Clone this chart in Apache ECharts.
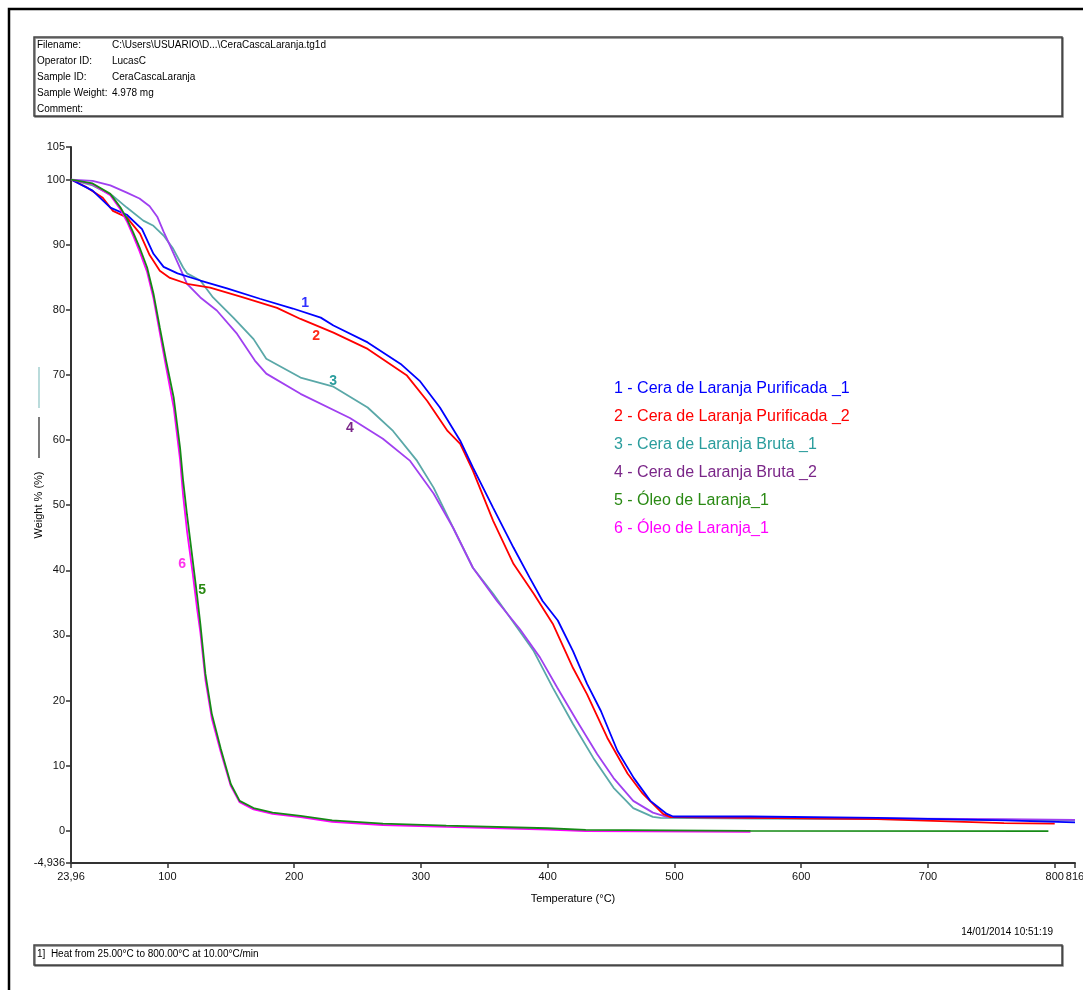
<!DOCTYPE html>
<html>
<head>
<meta charset="utf-8">
<title>CeraCascaLaranja TGA</title>
<script src="https://cdn.jsdelivr.net/npm/echarts@6.0.0/dist/echarts.min.js"></script>
<style>
html, body { margin: 0; padding: 0; background: #ffffff; }
#main { width: 1083px; height: 990px; }
</style>
</head>
<body>
<div id="main"></div>
<script>
// curve 1 - Cera de Laranja Purificada _1
var temp1 = [23.96, 41, 55, 68, 80, 89, 97, 108, 126, 147, 173, 199, 221, 231, 258, 284, 299, 315, 331, 341, 357, 373, 386, 396, 408, 420, 431, 442, 455, 468, 481, 494, 499, 560, 660, 760, 816];
var weight1 = [100, 98.3, 95.7, 94.6, 92.4, 88.6, 86.6, 85.6, 84.5, 83.3, 81.7, 80.2, 78.8, 77.6, 75.0, 71.7, 69.1, 65.0, 59.9, 55.8, 49.6, 43.5, 38.8, 35.3, 32.3, 27.6, 22.6, 18.4, 12.3, 8.1, 4.6, 2.6, 2.2, 2.2, 2.0, 1.6, 1.3];
// curve 2 - Cera de Laranja Purificada _2
var temp2 = [23.96, 36.5, 49, 57, 68, 78.4, 86, 94, 102, 115.5, 133.7, 159.7, 186.5, 205, 231, 258, 289, 305, 321, 331, 341, 357, 373, 389, 404, 420, 431, 447, 463, 475, 491, 497, 560, 660, 760, 800];
var weight2 = [100, 98.8, 97.2, 95.2, 94.2, 91.7, 88.4, 86.0, 84.9, 84.0, 83.4, 81.9, 80.3, 78.6, 76.5, 74.0, 69.9, 66.0, 61.4, 59.4, 55.3, 47.6, 41.0, 36.4, 31.8, 25.0, 21.0, 14.3, 8.8, 5.7, 2.6, 2.1, 2.0, 1.8, 1.2, 1.1];
// curve 3 - Cera de Laranja Bruta _1
var temp3 = [23.96, 41, 57, 68, 81, 89, 97, 104.5, 112.4, 115.5, 126, 136, 152, 168, 178, 205, 231, 258, 278, 297, 310, 325.5, 341, 357, 376, 389, 404, 420, 436, 452, 467.5, 483, 489, 560, 660, 760, 816];
var weight3 = [100, 99.1, 97.5, 95.7, 93.7, 92.9, 91.4, 89.4, 86.5, 85.6, 84.5, 81.9, 78.8, 75.5, 72.5, 69.6, 68.2, 65.0, 61.4, 56.8, 52.7, 46.5, 40.4, 36.4, 31.2, 27.6, 22.0, 16.4, 11.2, 6.6, 3.5, 2.15, 2.0, 1.9, 1.8, 1.7, 1.6];
// curve 4 - Cera de Laranja Bruta _2
var temp4 = [23.96, 41, 55, 68, 78, 86, 92, 97, 102, 108, 115.5, 126, 139, 155, 169, 178, 205, 244, 270, 291.5, 310, 325.5, 341, 360, 378, 394, 407.5, 423, 439, 452, 467.5, 483, 494, 560, 660, 760, 816];
var weight4 = [100, 99.8, 99.1, 98.0, 97.1, 95.9, 94.3, 92.0, 89.9, 87.3, 84.0, 81.9, 79.9, 76.3, 72.2, 70.2, 67.1, 63.4, 60.2, 56.8, 51.8, 46.5, 40.4, 35.3, 31.0, 26.6, 22.0, 16.9, 11.8, 8.1, 4.6, 2.8, 2.15, 2.0, 1.9, 1.8, 1.7];
// curve 5 - Óleo de Laranja_1 (green)
var temp5 = [23.96, 41, 55, 63, 68, 73, 78, 84, 89, 94, 99, 105, 110, 112.4, 115.5, 120, 123.5, 126, 130, 135, 142, 150, 157, 168, 183, 205, 230, 270, 320, 400, 430, 560, 795];
var weight5 = [100, 99.4, 97.8, 95.7, 94.0, 91.9, 89.6, 86.5, 82.5, 77.3, 72.2, 66.5, 58.8, 53.8, 48.5, 41.5, 36.0, 31.8, 24.1, 18.0, 12.7, 7.2, 4.6, 3.5, 2.8, 2.3, 1.6, 1.1, 0.8, 0.4, 0.15, 0.0, -0.05];
// curve 6 - Óleo de Laranja_1 (magenta)
var temp6 = [23.96, 41, 55, 63, 68, 73, 78, 84, 89, 94, 99, 105, 110, 112.4, 115.5, 120, 123.5, 126, 130, 135, 142, 150, 157, 168, 183, 205, 230, 270, 320, 400, 430, 560];
var weight6 = [100, 99.3, 97.6, 95.4, 93.6, 91.4, 89.0, 85.8, 81.8, 76.5, 71.2, 65.0, 57.0, 51.5, 46.0, 39.5, 34.0, 30.5, 23.2, 17.3, 12.2, 6.9, 4.4, 3.3, 2.6, 2.1, 1.4, 0.9, 0.6, 0.2, -0.05, -0.15];

// where the little curve numbers sit (temperature, weight)
var curveLabelPos = [[208.6, 81.1], [217.3, 76.0], [230.7, 69.1], [244.0, 61.9], [127.4, 36.9], [111.6, 41.0]];

var legendNames = ["1 - Cera de Laranja Purificada _1", "2 - Cera de Laranja Purificada _2", "3 - Cera de Laranja Bruta _1", "4 - Cera de Laranja Bruta _2", "5 - Óleo de Laranja_1", "6 - Óleo de Laranja_1"];

var xTicks = [23.96, 100, 200, 300, 400, 500, 600, 700, 800, 816];
var yTicks = [-4.936, 0, 10, 20, 30, 40, 50, 60, 70, 80, 90, 100, 105];

var headerLabels = ["Filename:", "Operator ID:", "Sample ID:", "Sample Weight:", "Comment:"];
var headerValues = ["C:\\Users\\USUARIO\\D...\\CeraCascaLaranja.tg1d", "LucasC", "CeraCascaLaranja", "4.978 mg", ""];

var FONT = '"Liberation Sans Narrow", "Liberation Sans", Arial, sans-serif';

function zip(t, w) {
  return t.map(function (v, i) { return [v, w[i]]; });
}
function fmt(v) {
  return String(+v.toFixed(3)).replace('.', ',');
}

var lineColors = ['#0000ff', '#ff0000', '#5aa8a8', '#a040f0', '#168a16', '#ff00ff'];
var textColors = ['#0000ff', '#ff0000', '#2a9d9d', '#7a2688', '#2a8a14', '#ff00ff'];
var curveLabelColors = ['#3030ff', '#ff2a1a', '#2a9d9d', '#7a2688', '#2a8a14', '#ff33ee'];
var temps = [temp1, temp2, temp3, temp4, temp5, temp6];
var weights = [weight1, weight2, weight3, weight4, weight5, weight6];

function makeSeries(i) {
  return {
    name: legendNames[i],
    type: 'line',
    data: zip(temps[i], weights[i]),
    showSymbol: false,
    smooth: false,
    lineStyle: { color: lineColors[i], width: 1.8 },
    itemStyle: { color: lineColors[i] },
    markPoint: {
      symbol: 'circle',
      symbolSize: 1,
      itemStyle: { color: 'rgba(0,0,0,0)' },
      label: {
        show: true,
        position: 'inside',
        formatter: String(i + 1),
        color: curveLabelColors[i],
        fontFamily: FONT,
        fontWeight: 'bold',
        fontSize: 14
      },
      data: [{ coord: curveLabelPos[i] }]
    }
  };
}

// draw order: magenta under green, teal/purple under red/blue
var order = [2, 3, 1, 0, 5, 4];
var series = order.map(makeSeries);

var graphics = [
  // outer frame
  { type: 'rect', shape: { x: 9, y: 9, width: 1100, height: 1010 }, style: { fill: 'none', stroke: '#000', lineWidth: 2.5 }, silent: true },
  // header box
  { type: 'rect', shape: { x: 34, y: 37, width: 1028, height: 79 }, style: { fill: '#fff', stroke: '#444', lineWidth: 1.5, shadowColor: 'rgba(0,0,0,0.5)', shadowOffsetX: 1, shadowOffsetY: 1 }, silent: true },
  // footer box
  { type: 'rect', shape: { x: 34, y: 945, width: 1028, height: 20 }, style: { fill: '#fff', stroke: '#444', lineWidth: 1.5, shadowColor: 'rgba(0,0,0,0.5)', shadowOffsetX: 1, shadowOffsetY: 1 }, silent: true },
  { type: 'text', left: 37, top: 949, style: { text: '1]  Heat from 25.00°C to 800.00°C at 10.00°C/min', font: '10px ' + FONT, fill: '#000' } },
  { type: 'text', right: 30, top: 927, style: { text: '14/01/2014 10:51:19', font: '10px ' + FONT, fill: '#000' } },
  // y-axis name decorations
  { type: 'line', shape: { x1: 39, y1: 367, x2: 39, y2: 408 }, style: { stroke: '#8cc4c4', lineWidth: 1.2 }, silent: true },
  { type: 'line', shape: { x1: 39, y1: 417, x2: 39, y2: 458 }, style: { stroke: '#222', lineWidth: 1.2 }, silent: true }
];

headerLabels.forEach(function (lab, i) {
  graphics.push({ type: 'text', left: 37, top: 40 + i * 16, style: { text: lab, font: '10px ' + FONT, fill: '#000' } });
  graphics.push({ type: 'text', left: 112, top: 40 + i * 16, style: { text: headerValues[i], font: '10px ' + FONT, fill: '#000' } });
});

legendNames.forEach(function (name, i) {
  graphics.push({ type: 'text', left: 614, top: 381 + i * 28, style: { text: name, font: '16px ' + FONT, fill: textColors[i] } });
});

var chart = echarts.init(document.getElementById('main'));
chart.setOption({
  backgroundColor: '#ffffff',
  animation: false,
  grid: {
    left: 71,
    right: 8,
    top: 147,
    bottom: 127,
    outerBoundsMode: 'none',
    containLabel: false
  },
  xAxis: {
    type: 'value',
    min: 23.96,
    max: 816,
    name: 'Temperature (°C)',
    nameLocation: 'middle',
    nameGap: 30,
    nameMoveOverlap: false,
    nameTextStyle: { fontFamily: FONT, fontSize: 11, color: '#000' },
    splitLine: { show: false },
    axisLine: { show: true, onZero: false, lineStyle: { color: '#333', width: 2 } },
    axisTick: { show: true, length: 5, lineStyle: { color: '#333', width: 1.5 }, customValues: xTicks },
    axisLabel: {
      customValues: xTicks,
      formatter: fmt,
      fontFamily: FONT,
      fontSize: 11,
      color: '#111',
      margin: 8,
      hideOverlap: false
    }
  },
  yAxis: {
    type: 'value',
    min: -4.936,
    max: 105,
    name: 'Weight % (%)',
    nameLocation: 'middle',
    nameGap: 27,
    nameMoveOverlap: false,
    nameTextStyle: { fontFamily: FONT, fontSize: 11, color: '#000' },
    splitLine: { show: false },
    axisLine: { show: true, onZero: false, lineStyle: { color: '#333', width: 2 } },
    axisTick: { show: true, length: 5, lineStyle: { color: '#333', width: 1.5 }, customValues: yTicks },
    axisLabel: {
      customValues: yTicks,
      formatter: fmt,
      fontFamily: FONT,
      fontSize: 11,
      color: '#111',
      margin: 6,
      hideOverlap: false
    }
  },
  graphic: graphics,
  series: series
});
</script>
</body>
</html>
